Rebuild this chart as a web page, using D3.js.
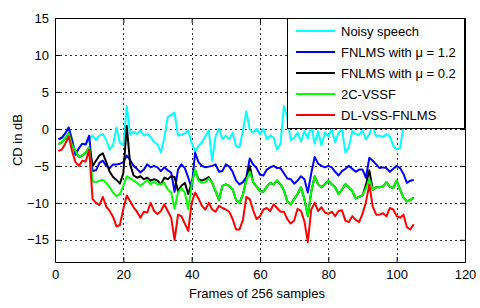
<!DOCTYPE html>
<html>
<head>
<meta charset="utf-8">
<script src="https://cdn.jsdelivr.net/npm/d3@7"></script>
<style>
  html, body { margin: 0; padding: 0; background: #fff; }
  svg { display: block; font-family: "Liberation Sans", Arial, sans-serif; }
</style>
</head>
<body>
<svg id="chart" width="480" height="308"></svg>
<script>
// ---- data ----
const frames = d3.range(1, 106);
const xTicks = [0, 20, 40, 60, 80, 100, 120];
const yTicks = [-15, -10, -5, 0, 5, 10, 15];
const seriesNames = ["Noisy speech", "FNLMS with \u03bc = 1.2", "FNLMS with \u03bc = 0.2", "2C-VSSF", "DL-VSS-FNLMS"];
const seriesColors = ["#00ffff", "#0000ff", "#000000", "#00ff00", "#ff0000"];

const noisySpeech = [
  -1.4, -1.2, -0.6, 0.2, -1.5, -3.5, -2.6, -2.0, -2.1, -1.3,
  -0.9, -1.5, -0.9, -0.7, -1.5, -2.8, -2.2, 0.2, -1.9, -2.2,
  3.1, -0.8, -0.4, -0.7, -0.2, -0.9, -0.7, -1.1, -1.8, -2.1,
  -3.2, -1.2, 1.6, 1.9, 2.2, -0.9, -0.8, -0.6, -0.2, -1.9,
  -3.0, -2.3, -1.8, -1.0, -0.2, -4.3, -1.0, 0.0, -1.4, -0.9,
  -1.4, -0.5, -2.3, -2.5, -0.2, 2.4, -0.1, -0.5, 0.0, -0.7,
  0.0, -1.4, -0.9, -1.2, -2.8, -2.0, 3.1, 1.5, -1.5, -1.2,
  -0.5, -1.7, -0.3, -1.3, 0.5, -2.0, -0.3, -2.2, -0.5, -1.0,
  0.0, -1.8, -0.5, 0.0, -3.2, -2.5, -0.3, -0.7, -0.8, -0.2,
  -1.4, -0.7, 0.5, -1.0, -0.9, -1.1, -0.7, -1.0, -2.3, -2.75,
  -2.6, 0.5, 2.0, 1.5, 2.5
];
const fnlmsHigh = [
  -1.4, -1.2, -0.6, 0.2, -1.5, -3.5, -2.6, -2.0, -2.1, -0.9,
  -5.7, -5.6, -4.6, -4.3, -5.0, -5.3, -4.8, -4.8, -4.7, -4.5,
  -3.6, -4.2, -5.0, -5.4, -5.9, -5.5, -4.8, -5.2, -5.0, -5.2,
  -5.7, -5.2, -5.6, -5.9, -8.5, -5.5, -4.8, -5.3, -6.6, -8.0,
  -3.2, -4.5, -5.0, -5.2, -5.1, -5.0, -4.8, -5.8, -5.7, -4.8,
  -5.1, -5.8, -7.0, -7.5, -7.2, -6.5, -4.0, -4.8, -5.3, -6.2,
  -6.3, -5.5, -5.2, -5.0, -5.3, -5.3, -6.0, -6.7, -6.8, -7.4,
  -7.0, -6.4, -6.8, -8.6, -6.0, -3.8, -4.7, -5.0, -5.2, -5.0,
  -5.2, -5.8, -6.3, -5.7, -5.4, -5.0, -5.4, -5.8, -5.5, -5.5,
  -6.6, -3.9, -4.3, -4.8, -5.3, -5.2, -5.3, -5.8, -5.4, -5.0,
  -5.3, -6.1, -7.3, -7.0, -6.9
];
const fnlmsLow = [
  -2.1, -1.8, -1.3, -0.6, -2.2, -3.0, -3.8, -3.6, -3.2, -2.5,
  -5.0, -4.3, -3.6, -3.3, -4.5, -5.8, -6.5, -6.9, -7.4, -6.0,
  0.4, -4.8, -6.3, -6.6, -6.4, -6.8, -6.6, -7.0, -6.8, -7.0,
  -7.5, -6.6, -6.8, -6.4, -6.5, -8.4, -7.7, -7.3, -8.8, -7.3,
  -5.6, -6.8, -7.0, -6.8, -6.5, -7.3, -8.4, -9.6, -7.7, -7.5,
  -7.7, -8.2, -9.6, -10.0, -8.9, -6.8, -5.0, -7.2, -7.8, -8.4,
  -8.5, -7.8, -7.3, -7.5, -7.0, -7.5, -8.3, -9.8, -10.2, -9.5,
  -8.8, -7.9, -9.5, -11.8, -8.5, -6.4, -7.5, -7.9, -7.5, -7.0,
  -7.5, -7.9, -8.8, -8.2, -7.5, -7.9, -8.4, -9.4, -9.2, -9.0,
  -7.6, -5.6, -8.2, -7.9, -7.9, -7.8, -7.2, -7.8, -8.0, -7.0,
  -8.2, -9.3, -9.8, -9.6, -9.3
];
const vssf2c = [
  -2.1, -1.8, -1.3, -0.6, -2.2, -3.0, -3.8, -3.6, -3.2, -2.5,
  -7.1, -7.2, -7.0, -6.9, -7.3, -7.9, -8.6, -9.1, -8.8, -7.7,
  -6.4, -6.7, -7.0, -7.3, -7.7, -7.3, -6.9, -7.5, -7.1, -7.5,
  -7.5, -7.3, -8.2, -8.6, -10.8, -8.6, -8.0, -8.6, -10.9, -7.5,
  -5.5, -7.0, -7.3, -7.2, -6.7, -7.3, -8.4, -9.6, -7.7, -7.5,
  -7.7, -8.2, -9.6, -10.0, -8.9, -7.0, -5.8, -7.2, -7.8, -8.4,
  -8.5, -7.8, -7.3, -7.5, -7.0, -7.5, -8.3, -9.8, -10.2, -9.5,
  -8.8, -7.9, -9.5, -11.8, -8.5, -6.4, -7.5, -7.9, -7.5, -7.0,
  -7.5, -7.9, -8.8, -8.2, -7.5, -7.9, -8.4, -9.4, -9.2, -9.0,
  -8.0, -6.8, -8.2, -7.9, -7.9, -7.8, -7.2, -7.8, -8.0, -7.0,
  -8.2, -9.3, -9.8, -9.6, -9.3
];
const dlVssFnlms = [
  -3.0, -2.8, -2.0, -1.0, -3.0, -4.5, -5.0, -4.3, -4.4, -2.8,
  -9.5, -10.0, -10.3, -9.2, -10.5, -11.1, -11.9, -13.2, -13.0, -10.8,
  -9.0, -9.8, -10.6, -11.2, -12.0, -11.2, -11.3, -10.0, -11.1, -11.5,
  -11.1, -10.2, -11.1, -12.0, -15.0, -11.6, -11.8, -12.8, -13.8, -10.0,
  -8.6, -9.4, -10.4, -10.9, -10.0, -10.9, -11.2, -10.4, -10.7, -10.9,
  -11.2, -12.2, -13.6, -13.6, -12.3, -9.2, -9.5, -11.0, -12.2, -11.8,
  -10.9, -10.7, -11.1, -10.2, -10.7, -11.2, -11.2, -12.2, -12.8, -12.4,
  -10.8, -11.1, -12.5, -15.3, -10.9, -10.0, -11.1, -10.6, -11.3, -11.5,
  -11.2, -11.8, -11.1, -11.0, -12.4, -12.6, -11.8, -12.3, -12.6, -11.5,
  -9.9, -7.5, -10.5, -11.6, -11.6, -11.4, -11.8, -10.7, -10.9, -11.8,
  -12.0, -11.6, -13.3, -13.6, -12.9
];
const seriesValues = [noisySpeech, fnlmsHigh, fnlmsLow, vssf2c, dlVssFnlms];

// ---- layout ----
const L = 55, R = 465, T = 18, B = 262;
const svg = d3.select("#chart");

const x = d3.scaleLinear().domain([0, 120]).range([L, R]);
const y = d3.scaleLinear().domain([-18, 15]).range([B, T]);

// grid
const grid = svg.append("g").attr("stroke", "#000").attr("stroke-width", 0.8)
  .attr("stroke-dasharray", "2,3").attr("shape-rendering", "crispEdges");
grid.selectAll(".vg").data(xTicks.filter(d => d > 0 && d < 120)).join("line")
  .attr("x1", d => Math.round(x(d)) + 0.5).attr("x2", d => Math.round(x(d)) + 0.5)
  .attr("y1", T).attr("y2", B);
grid.selectAll(".hg").data(yTicks.filter(d => d > -18 && d < 15)).join("line")
  .attr("y1", d => Math.round(y(d)) + 0.5).attr("y2", d => Math.round(y(d)) + 0.5)
  .attr("x1", L).attr("x2", R);

// series
const line = d3.line().x((d, i) => x(frames[i])).y(d => y(d));
seriesValues.forEach((vals, k) => {
  svg.append("path").datum(vals)
    .attr("fill", "none").attr("stroke", seriesColors[k])
    .attr("stroke-width", 2).attr("stroke-linejoin", "round")
    .attr("d", line);
});

// axes (box with inward ticks)
const tickLen = 5;
const axB = d3.axisBottom(x).tickValues(xTicks).tickSizeInner(-tickLen).tickSizeOuter(0).tickPadding(8);
const axL = d3.axisLeft(y).tickValues(yTicks).tickSizeInner(-tickLen).tickSizeOuter(0).tickPadding(6);
const axT = d3.axisTop(x).tickValues(xTicks).tickSizeInner(-tickLen).tickSizeOuter(0).tickFormat("");
const axR = d3.axisRight(y).tickValues(yTicks).tickSizeInner(-tickLen).tickSizeOuter(0).tickFormat("");

function style(g) {
  g.selectAll("text").attr("font-size", 13).attr("fill", "#000")
    .attr("font-family", "'Liberation Sans', Arial, sans-serif");
  g.selectAll("line").attr("stroke", "#000");
  g.select(".domain").attr("stroke", "#000");
}
svg.append("g").attr("transform", `translate(0,${B})`).call(axB).call(style);
svg.append("g").attr("transform", `translate(${L},0)`).call(axL).call(style);
svg.append("g").attr("transform", `translate(0,${T})`).call(axT).call(style);
svg.append("g").attr("transform", `translate(${R},0)`).call(axR).call(style);

// labels
svg.append("text").attr("x", (L + R) / 2 - 3).attr("y", 298)
  .attr("text-anchor", "middle").attr("font-size", 13).text("Frames of 256 samples");
svg.append("text").attr("transform", `translate(22,${(T + B) / 2}) rotate(-90)`)
  .attr("text-anchor", "middle").attr("font-size", 13).text("CD in dB");

// legend
const lg = svg.append("g");
const lx0 = 287, ly0 = 18, lw = R - 287, lh = 110;
lg.append("rect").attr("x", lx0 + 0.5).attr("y", ly0 + 0.5).attr("width", lw - 1).attr("height", lh)
  .attr("fill", "#fff").attr("stroke", "#000").attr("stroke-width", 1);
const rowY = d3.scaleLinear().domain([0, 4]).range([31, 115]);
seriesNames.forEach((name, k) => {
  const yy = rowY(k);
  lg.append("line").attr("x1", 296).attr("x2", 335).attr("y1", yy).attr("y2", yy)
    .attr("stroke", seriesColors[k]).attr("stroke-width", 2);
  lg.append("text").attr("x", 341).attr("y", yy).attr("dy", "0.35em")
    .attr("font-size", 13).text(name);
});
</script>
</body>
</html>
